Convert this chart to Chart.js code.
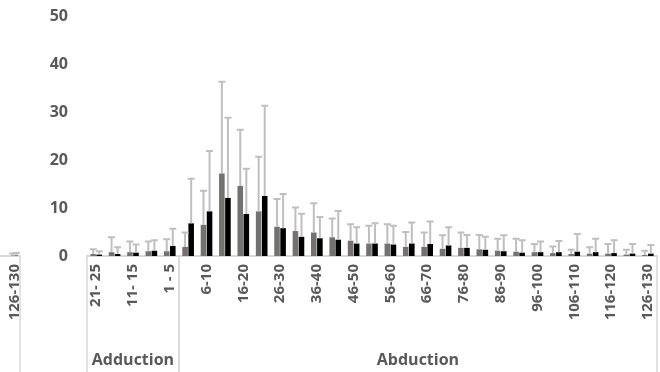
<!DOCTYPE html>
<html>
<head>
<meta charset="utf-8">
<script src="https://cdn.jsdelivr.net/npm/chart.js@4.4.1/dist/chart.umd.min.js"></script>
<style>
  html, body { margin: 0; padding: 0; background: #fff; }
  #wrap { position: relative; width: 660px; height: 372px; overflow: hidden; }
  #tailBox { position: absolute; left: -2px; top: 0; width: 23px; height: 372px; }
  #mainBox { position: absolute; left: 30px; top: 0; width: 630px; height: 372px; }
</style>
</head>
<body>
<div id="wrap">
  <div id="tailBox"><canvas id="tailChart"></canvas></div>
  <div id="mainBox"><canvas id="myChart"></canvas></div>
</div>
<script>
// categories
const adductionLabels = ['21- 25', '16- 20', '11- 15', '6- 10', '1 - 5'];
const abductionLabels = ['1-5', '6-10', '11-15', '16-20', '21-25', '26-30', '31-35', '36-40', '41-45',
  '46-50', '51-55', '56-60', '61-65', '66-70', '71-75', '76-80', '81-85', '86-90', '91-95',
  '96-100', '101-105', '106-110', '111-115', '116-120', '121-125', '126-130'];
const groupNames = ['Adduction', 'Abduction'];

// series 1 (gray) and series 2 (black), adduction first then abduction
const grayValues = [0.4, 0.8, 0.8, 1.0, 1.0,
  1.9, 6.5, 17.2, 14.6, 9.3, 6.1, 5.2, 4.9, 3.9, 3.2, 2.6, 2.6, 1.9, 1.9, 1.5, 1.7, 1.4, 1.1, 0.9,
  0.8, 0.6, 0.4, 0.5, 0.5, 0.3, 0.2];
const grayErrors = [1.0, 3.1, 2.2, 2.0, 2.5,
  3.0, 7.1, 19.1, 11.7, 11.4, 5.8, 4.9, 6.1, 3.9, 3.4, 3.7, 4.0, 3.1, 3.0, 2.8, 3.2, 3.0, 2.5, 2.7,
  1.7, 1.4, 0.9, 1.3, 2.0, 1.0, 0.9];
const blackValues = [0.3, 0.4, 0.7, 1.1, 2.1,
  6.8, 9.3, 12.1, 8.75, 12.5, 5.8, 4.0, 3.7, 3.4, 2.6, 2.6, 2.4, 2.6, 2.5, 2.2, 1.7, 1.3, 1.0, 0.7,
  0.8, 0.8, 0.9, 0.8, 0.6, 0.5, 0.5];
const blackErrors = [0.7, 1.4, 1.7, 2.2, 3.6,
  9.3, 12.6, 16.7, 9.45, 18.8, 7.1, 4.8, 4.4, 6.0, 3.4, 4.2, 3.9, 4.4, 4.7, 3.8, 2.7, 2.7, 3.3, 2.6,
  2.2, 2.3, 3.7, 2.8, 2.7, 2.0, 1.8];

// the cut-off edge of the neighbouring panel
const tailLabels = ['121-125', '126-130'];
const tailGray = [null, 0.1];
const tailGrayErrors = [0, 0.4];
const tailBlack = [null, 0.1];
const tailBlackErrors = [0, 0.5];

const yTicks = [0, 10, 20, 30, 40, 50];

const categories = adductionLabels.concat(abductionLabels);
const groupSizes = [adductionLabels.length, abductionLabels.length];

const FONT = '"Open Sans", "DejaVu Sans", sans-serif';
const TEXT = '#595959';
const LINE = '#d9d9d9';

const errorBars = {
  id: 'errorBars',
  afterDatasetsDraw(chart) {
    const ctx = chart.ctx;
    const y = chart.scales.y;
    ctx.save();
    ctx.strokeStyle = '#bfbfbf';
    ctx.lineWidth = 2;
    chart.data.datasets.forEach((ds, di) => {
      const meta = chart.getDatasetMeta(di);
      meta.data.forEach((bar, i) => {
        const v = ds.data[i];
        if (v == null) return;
        const top = y.getPixelForValue(v + ds.errors[i]);
        ctx.beginPath();
        ctx.moveTo(bar.x, bar.y);
        ctx.lineTo(bar.x, top);
        ctx.moveTo(bar.x - 3.5, top);
        ctx.lineTo(bar.x + 3.5, top);
        ctx.stroke();
      });
    });
    ctx.restore();
  }
};

// multi-level category axis: separators + group names
const groupAxis = {
  id: 'groupAxis',
  afterDraw(chart, args, opts) {
    const ctx = chart.ctx;
    const area = chart.chartArea;
    const x = chart.scales.x;
    const half = x.width / x.ticks.length / 2;
    ctx.save();
    ctx.strokeStyle = LINE;
    ctx.lineWidth = 1.5;
    ctx.fillStyle = TEXT;
    ctx.font = 'bold 16px ' + FONT;
    ctx.textAlign = 'center';
    ctx.textBaseline = 'middle';
    let start = 0;
    opts.sizes.forEach((n, gi) => {
      const left = x.getPixelForTick(start) - half;
      const right = x.getPixelForTick(start + n - 1) + half;
      ctx.beginPath();
      ctx.moveTo(left, area.bottom);
      ctx.lineTo(left, chart.height);
      ctx.moveTo(right, area.bottom);
      ctx.lineTo(right, chart.height);
      ctx.stroke();
      if (opts.names[gi]) ctx.fillText(opts.names[gi], (left + right) / 2, 360);
      start += n;
    });
    ctx.restore();
  }
};

function xAxis(showIndex) {
  return {
    grid: { display: false, drawTicks: false },
    border: { color: LINE, width: 2 },
    ticks: {
      autoSkip: false,
      minRotation: 90,
      maxRotation: 90,
      padding: 8,
      color: TEXT,
      font: { family: FONT, size: 15, weight: 'bold' },
      callback: function (val, i) {
        return showIndex(i) ? this.getLabelForValue(val) : '';
      }
    },
    afterFit: (scale) => {
      scale.height = 116;
      scale.paddingLeft = 0;
      scale.paddingRight = 0;
    }
  };
}

new Chart(document.getElementById('myChart'), {
  type: 'bar',
  data: {
    labels: categories,
    datasets: [
      { data: grayValues, errors: grayErrors, backgroundColor: '#767171' },
      { data: blackValues, errors: blackErrors, backgroundColor: '#000000' }
    ]
  },
  options: {
    responsive: true,
    maintainAspectRatio: false,
    animation: false,
    categoryPercentage: 0.66,
    barPercentage: 0.92,
    layout: { padding: { top: 16, right: 3, left: 0, bottom: 0 } },
    plugins: {
      legend: { display: false },
      tooltip: { enabled: false },
      groupAxis: { sizes: groupSizes, names: groupNames }
    },
    scales: {
      x: xAxis((i) => i % 2 === 0),
      y: {
        min: 0,
        max: 50,
        grid: { display: false, drawTicks: false },
        border: { display: false },
        afterBuildTicks: (scale) => { scale.ticks = yTicks.map((v) => ({ value: v })); },
        ticks: {
          padding: 19,
          color: TEXT,
          font: { family: FONT, size: 16, weight: 'bold' }
        },
        afterFit: (scale) => {
          scale.width = 57;
          scale.paddingTop = 0;
          scale.paddingBottom = 0;
        }
      }
    }
  },
  plugins: [errorBars, groupAxis]
});

new Chart(document.getElementById('tailChart'), {
  type: 'bar',
  data: {
    labels: tailLabels,
    datasets: [
      { data: tailGray, errors: tailGrayErrors, backgroundColor: '#767171' },
      { data: tailBlack, errors: tailBlackErrors, backgroundColor: '#000000' }
    ]
  },
  options: {
    responsive: true,
    maintainAspectRatio: false,
    animation: false,
    categoryPercentage: 0.66,
    barPercentage: 0.92,
    layout: { padding: { top: 16, right: 1, left: 0, bottom: 0 } },
    plugins: {
      legend: { display: false },
      tooltip: { enabled: false },
      groupAxis: { sizes: [tailLabels.length], names: [''] }
    },
    scales: {
      x: xAxis((i) => i === tailLabels.length - 1),
      y: { display: false, min: 0, max: 50 }
    }
  },
  plugins: [errorBars, groupAxis]
});
</script>
</body>
</html>
